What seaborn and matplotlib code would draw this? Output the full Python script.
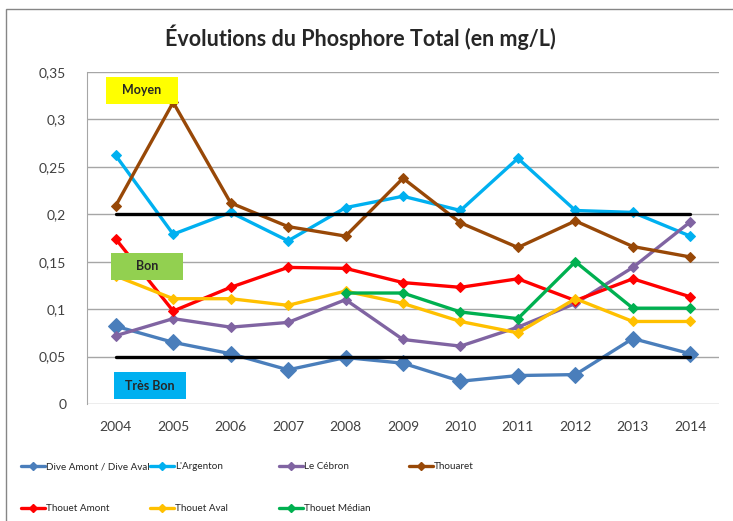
import pandas as pd
import matplotlib.pyplot as plt
import seaborn as sns
from matplotlib.patches import Rectangle
from matplotlib.lines import Line2D

years = [2004, 2005, 2006, 2007, 2008, 2009, 2010, 2011, 2012, 2013, 2014]

dive = [0.082, 0.065, 0.053, 0.036, 0.049, 0.043, 0.024, 0.030, 0.031, 0.069, 0.053]
argenton = [0.262, 0.179, 0.202, 0.172, 0.207, 0.219, 0.204, 0.259, 0.204, 0.202, 0.177]
cebron = [0.072, 0.090, 0.081, 0.086, 0.110, 0.068, 0.061, 0.081, 0.106, 0.144, 0.192]
thouaret = [0.209, 0.318, 0.212, 0.187, 0.177, 0.238, 0.191, 0.165, 0.193, 0.166, 0.155]
thouet_amont = [0.174, 0.098, 0.123, 0.144, 0.143, 0.128, 0.123, 0.132, 0.109, 0.132, 0.113]
thouet_aval = [0.135, 0.111, 0.111, 0.104, 0.119, 0.106, 0.087, 0.075, 0.111, 0.087, 0.087]
median_years = [2008, 2009, 2010, 2011, 2012, 2013, 2014]
thouet_median = [0.117, 0.117, 0.097, 0.090, 0.150, 0.101, 0.101]

seuil_moyen = [0.2] * len(years)
seuil_bon = [0.05] * len(years)

series = [
    ("Dive Amont / Dive Aval", years, dive, "#4A7EBB", 8),
    ("L'Argenton", years, argenton, "#00B0F0", 5.5),
    ("Le Cébron", years, cebron, "#8064A2", 5.5),
    ("Thouaret", years, thouaret, "#984807", 5.5),
    ("Thouet Amont", years, thouet_amont, "#FF0000", 5.5),
    ("Thouet Aval", years, thouet_aval, "#FFC000", 5.5),
    ("Thouet Médian", median_years, thouet_median, "#00B050", 5.5),
]

sns.set_style("white")
plt.rcParams["font.family"] = ["Lato", "DejaVu Sans"]

fig = plt.figure(figsize=(7.33, 5.21), dpi=100)
ax = fig.add_axes([87 / 733, 1 - 404 / 521, (719 - 87) / 733, (404 - 72) / 521])

for label, xs, ys, color, ms in series:
    sns.lineplot(x=xs, y=ys, ax=ax, color=color, lw=2.4, marker="D",
                 markersize=ms, markeredgecolor=color, label=label, legend=False, zorder=3)

sns.lineplot(x=years, y=seuil_moyen, ax=ax, color="black", lw=2.4, legend=False, zorder=4)
sns.lineplot(x=years, y=seuil_bon, ax=ax, color="black", lw=2.4, legend=False, zorder=4)

ax.set_xlim(2003.5, 2014.5)
ax.set_ylim(0, 0.35)
ax.set_xticks(years)
ax.set_xticklabels([str(y) for y in years], fontsize=10, color="#404040")
yt = [0, 0.05, 0.1, 0.15, 0.2, 0.25, 0.3, 0.35]
ax.set_yticks(yt)
ax.set_yticklabels(["0", "0,05", "0,1", "0,15", "0,2", "0,25", "0,3", "0,35"],
                   fontsize=10, color="#404040")
ax.yaxis.grid(True, color="#A6A6A6", lw=1)
ax.set_axisbelow(True)
ax.tick_params(axis="y", length=5, color="#A6A6A6", pad=10)
ax.tick_params(axis="x", length=0, pad=12)
for s in ["top", "right", "bottom"]:
    ax.spines[s].set_visible(False)
ax.spines["left"].set_color("#A6A6A6")

fig.text(360 / 733, 1 - 37 / 521, "Évolutions du Phosphore Total (en mg/L)",
         ha="center", va="center", fontsize=15.5, fontweight="bold")

# boîtes de classes de qualité
boxes = [("Moyen", 106, 77, "#FFFF00"), ("Bon", 111, 253, "#92D050"), ("Très Bon", 114, 372, "#00B0F0")]
for txt, x0, y0, c in boxes:
    fig.patches.append(Rectangle((x0 / 733, 1 - (y0 + 27) / 521), 72 / 733, 27 / 521,
                                 transform=fig.transFigure, facecolor=c, edgecolor="none", zorder=10))
    fig.text((x0 + 36) / 733, 1 - (y0 + 13.5) / 521, txt, ha="center", va="center",
             fontsize=9, fontweight="bold", zorder=11)

# cadre du graphique
fig.patches.append(Rectangle((6 / 733, -0.1), 1.2, 1 - 9 / 521 + 0.1, transform=fig.transFigure,
                             fill=False, edgecolor="#868686", lw=1, zorder=0))

# légende en colonnes
handles = {lab: Line2D([], [], color=c, lw=2.4, marker="D", markersize=4) for lab, _, _, c, _ in series}
cols = [["Dive Amont / Dive Aval", "Thouet Amont"], ["L'Argenton", "Thouet Aval"],
        ["Le Cébron", "Thouet Médian"], ["Thouaret"]]
col_x = [21, 150, 279, 409]
fs = 7.1
for names, cx in zip(cols, col_x):
    fig.legend([handles[n] for n in names], names, loc="upper left",
               bbox_to_anchor=(cx / 733, 1 - 462 / 521), frameon=False, fontsize=fs,
               handlelength=17.5 / fs, handletextpad=0.4 / fs, labelspacing=24 / fs,
               borderpad=0, borderaxespad=0)

fig.savefig("out.png", dpi=100)
